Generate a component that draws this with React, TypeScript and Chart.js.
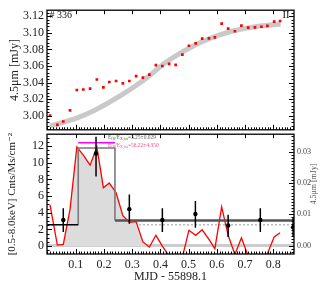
import { useEffect, useRef } from "react";
import { Chart, registerables } from "chart.js";

Chart.register(...registerables);

const SERIF = '"Liberation Serif", "Times New Roman", "DejaVu Serif", serif';

// ---------------- data ----------------
// upper panel: 4.5 micron light curve (red squares)
const irTimes = [0.009, 0.035, 0.056, 0.080, 0.104, 0.127, 0.151, 0.175, 0.198, 0.219, 0.243, 0.267, 0.290, 0.314, 0.338, 0.361, 0.384, 0.407, 0.431, 0.454, 0.478, 0.501, 0.525, 0.548, 0.572, 0.593, 0.617, 0.640, 0.664, 0.687, 0.711, 0.735, 0.758, 0.779, 0.803, 0.824];
const irFlux = [3.000, 2.989, 2.993, 3.0065, 3.031, 3.0316, 3.0326, 3.0437, 3.0341, 3.0407, 3.0419, 3.0391, 3.0419, 3.0477, 3.0460, 3.0495, 3.0611, 3.0600, 3.0626, 3.0614, 3.0736, 3.0844, 3.0872, 3.0930, 3.0934, 3.0945, 3.1112, 3.1050, 3.1019, 3.1088, 3.1062, 3.1065, 3.1073, 3.1085, 3.1135, 3.1143];
// smooth model (thick gray curve)
const modelTimes = [0.009, 0.06, 0.11, 0.16, 0.21, 0.26, 0.31, 0.36, 0.41, 0.46, 0.51, 0.56, 0.61, 0.66, 0.71, 0.76, 0.826];
const modelFlux = [2.9875, 2.9925, 2.998, 3.0055, 3.0145, 3.0245, 3.0355, 3.048, 3.062, 3.0735, 3.083, 3.091, 3.0975, 3.1025, 3.106, 3.1085, 3.1105];

// lower panel: red curve (same epochs as irTimes)
const irRate = [4.94, 0.12, 0.2, 4.43, 11.9, 10.9, 9.7, 11.9, 7.0, 7.56, 6.4, 3.65, 2.86, 2.94, 0.5, -0.1, 1.3, 0.0, -1.2, -2.0, -1.3, 1.9, 1.3, 1.96, 0.8, -0.3, 4.7, 1.3, -1.0, 1.0, -1.2, -1.5, -1.5, -0.9, 1.1, 1.6];
const fillFirst = 2;
const fillLast = 15;

// X-ray binned light curve
const xrayTimes = [0.056, 0.172, 0.290, 0.407, 0.524, 0.640, 0.754, 0.870];
const xrayRate = [3.14, 11.1, 4.43, 3.14, 3.85, 2.47, 3.14, 2.25];
const xrayErrLo = [1.7, 8.35, 2.67, 1.7, 2.2, 1.1, 1.7, 1.1];
const xrayErrHi = [4.55, 13.1, 6.2, 4.55, 5.4, 3.76, 4.55, 3.4];

// Bayesian blocks
const blockEdges = [0.0, 0.109, 0.239, 0.873];
const blockRates = [2.55, 11.76, 3.06];
const meanRate = 2.55;
const flareWindow = [0.109, 0.239];
const flareLevel = 12.39;

// ticks
const xTicks = [0.1, 0.2, 0.3, 0.4, 0.5, 0.6, 0.7, 0.8];
const fluxTicks = [3.0, 3.02, 3.04, 3.06, 3.08, 3.1, 3.12];
const rateTicks = [0, 2, 4, 6, 8, 10, 12];
const mjyTicks = [0.0, 0.01, 0.02, 0.03];

// axis ranges
const X_MIN = -0.0017;
const X_MAX = 0.8733;
const FLUX_MIN = 2.983;
const FLUX_MAX = 3.1273;
const RATE_MIN = -0.94;
const RATE_MAX = 13.41;
const MJY_MIN = -0.0027;
const MJY_MAX = 0.0357;

// ---------------- helpers ----------------
const steps = (a: number, b: number, s: number) => {
  const out: number[] = [];
  for (let i = Math.ceil(a / s - 1e-9); i * s <= b + 1e-9; i++) out.push(+(i * s).toFixed(6));
  return out;
};

type TickSpec = { scale: string; side: "top" | "bottom" | "left" | "right"; values: number[]; len: number };

const framePlugin = {
  id: "frameTicks",
  afterDatasetsDraw(chart: any, _args: any, opts: any) {
    const { ctx, chartArea: a } = chart;
    ctx.save();
    ctx.strokeStyle = "#000";
    ctx.lineWidth = 1;
    ctx.beginPath();
    for (const t of (opts.ticks || []) as TickSpec[]) {
      const sc = chart.scales[t.scale];
      for (const v of t.values) {
        const p = Math.round(sc.getPixelForValue(v)) + 0.5;
        if (t.side === "bottom" || t.side === "top") {
          if (p < a.left || p > a.right) continue;
          const y0 = t.side === "bottom" ? a.bottom : a.top;
          const dir = t.side === "bottom" ? -1 : 1;
          ctx.moveTo(p, y0);
          ctx.lineTo(p, y0 + dir * t.len);
        } else {
          if (p < a.top || p > a.bottom) continue;
          const x0 = t.side === "left" ? a.left : a.right;
          const dir = t.side === "left" ? 1 : -1;
          ctx.moveTo(x0, p);
          ctx.lineTo(x0 + dir * t.len, p);
        }
      }
    }
    ctx.stroke();
    ctx.lineWidth = 1.3;
    ctx.strokeRect(a.left, a.top, a.right - a.left, a.bottom - a.top);
    ctx.restore();
  },
};

const textPlugin = {
  id: "texts",
  afterDraw(chart: any, _args: any, opts: any) {
    const { ctx } = chart;
    for (const it of opts.items || []) {
      const x = it.xv != null ? chart.scales.x.getPixelForValue(it.xv) : it.x;
      const y = it.yv != null ? chart.scales.y.getPixelForValue(it.yv) : it.y;
      ctx.save();
      ctx.translate(x, y);
      if (it.rotate) ctx.rotate(it.rotate);
      ctx.fillStyle = it.color || "#222";
      ctx.textAlign = "left";
      ctx.textBaseline = "middle";
      let w = 0;
      for (const p of it.parts) {
        ctx.font = `${p.sub ? it.size * 0.7 : it.size}px ${SERIF}`;
        w += ctx.measureText(p.t).width;
      }
      let cx = it.align === "right" ? -w : it.align === "center" ? -w / 2 : 0;
      for (const p of it.parts) {
        ctx.font = `${p.sub ? it.size * 0.7 : it.size}px ${SERIF}`;
        ctx.fillText(p.t, cx, p.sub ? it.size * 0.3 : 0);
        cx += ctx.measureText(p.t).width;
      }
      ctx.restore();
    }
  },
};

const pts = (xs: number[], ys: number[]) => xs.map((x, i) => ({ x, y: ys[i] }));

export default function App() {
  const topRef = useRef<HTMLCanvasElement>(null);
  const botRef = useRef<HTMLCanvasElement>(null);

  useEffect(() => {
    const top = new Chart(topRef.current as HTMLCanvasElement, {
      type: "line",
      data: {
        datasets: [
          {
            label: "4.5um",
            data: pts(irTimes, irFlux),
            showLine: false,
            pointStyle: "rect",
            pointRadius: 1.9,
            pointBackgroundColor: "#ff0000",
            pointBorderWidth: 0,
            order: 0,
          },
          {
            label: "model",
            data: pts(modelTimes, modelFlux),
            borderColor: "#c9c9c9",
            borderWidth: 5,
            pointRadius: 0,
            cubicInterpolationMode: "monotone",
            order: 1,
          },
        ],
      } as any,
      options: {
        responsive: false,
        animation: false,
        events: [],
        layout: { padding: { left: 0, right: 33, top: 8, bottom: 8 } },
        scales: {
          x: { type: "linear", display: false, min: X_MIN, max: X_MAX },
          y: {
            type: "linear",
            position: "left",
            min: FLUX_MIN,
            max: FLUX_MAX,
            grid: { display: false, drawTicks: false },
            border: { display: false },
            afterBuildTicks: (s: any) => {
              s.ticks = fluxTicks.map((v) => ({ value: v }));
            },
            afterFit: (s: any) => {
              s.width = 47;
            },
            ticks: {
              padding: 3,
              font: { family: SERIF, size: 12 },
              color: "#222",
              callback: (v: any) => Number(v).toFixed(2),
            },
            title: {
              display: true,
              text: "4.5μm [mJy]",
              font: { family: SERIF, size: 12 },
              color: "#222",
              padding: { top: 8, bottom: 0 },
            },
          },
        },
        plugins: {
          legend: { display: false },
          tooltip: { enabled: false },
          frameTicks: {
            ticks: [
              { scale: "x", side: "bottom", values: xTicks, len: 5 },
              { scale: "x", side: "bottom", values: steps(0, 0.87, 0.01), len: 2.5 },
              { scale: "x", side: "top", values: xTicks, len: 4 },
              { scale: "y", side: "left", values: fluxTicks, len: 5 },
              { scale: "y", side: "left", values: steps(2.984, 3.127, 0.004), len: 2.5 },
              { scale: "y", side: "right", values: fluxTicks, len: 5 },
              { scale: "y", side: "right", values: steps(2.984, 3.127, 0.004), len: 2.5 },
            ],
          },
          texts: {
            items: [
              { parts: [{ t: "# 336" }], x: 49.5, y: 15, size: 10, color: "#111" },
              { parts: [{ t: "II" }], x: 289.5, y: 15, size: 10.5, color: "#111", align: "right" },
            ],
          },
        } as any,
      },
      plugins: [framePlugin, textPlugin],
    } as any);

    const blockSeg1 = [
      { x: blockEdges[0], y: blockRates[0] },
      { x: blockEdges[1], y: blockRates[0] },
    ];
    const blockSeg2 = [
      { x: blockEdges[1], y: blockRates[0] },
      { x: blockEdges[1], y: blockRates[1] },
      { x: blockEdges[2], y: blockRates[1] },
      { x: blockEdges[2], y: blockRates[2] },
    ];
    const blockSeg3 = [
      { x: blockEdges[2], y: blockRates[2] },
      { x: blockEdges[3], y: blockRates[2] },
    ];
    const errData = xrayTimes.flatMap((t, i) => [
      { x: t, y: xrayErrLo[i] },
      { x: t, y: xrayErrHi[i] },
      { x: t, y: null },
    ]);
    const fillData = pts(irTimes, irRate).slice(fillFirst, fillLast + 1);

    const bot = new Chart(botRef.current as HTMLCanvasElement, {
      type: "line",
      data: {
        datasets: [
          {
            label: "xray",
            data: pts(xrayTimes, xrayRate),
            showLine: false,
            pointRadius: 2.2,
            pointBackgroundColor: "#000",
            pointBorderWidth: 0,
            order: 0,
          },
          {
            label: "err",
            data: errData,
            borderColor: "#000",
            borderWidth: 1.5,
            pointRadius: 0,
            spanGaps: false,
            order: 1,
          },
          {
            label: "flare",
            data: [
              { x: flareWindow[0], y: flareLevel },
              { x: flareWindow[1], y: flareLevel },
            ],
            borderColor: "#ff00ff",
            borderWidth: 1.5,
            pointRadius: 0,
            order: 2,
          },
          { label: "b1", data: blockSeg1, borderColor: "#000", borderWidth: 1.5, pointRadius: 0, order: 3 },
          { label: "b2", data: blockSeg2, borderColor: "#7a7a7a", borderWidth: 1.6, pointRadius: 0, order: 3 },
          { label: "b3", data: blockSeg3, borderColor: "#555", borderWidth: 2.5, pointRadius: 0, order: 3 },
          {
            label: "ir",
            data: pts(irTimes, irRate),
            borderColor: "#ff0000",
            borderWidth: 1.3,
            pointRadius: 0,
            order: 4,
          },
          {
            label: "fill",
            data: fillData,
            borderColor: "rgba(0,0,0,0)",
            borderWidth: 0,
            backgroundColor: "#dcdcdc",
            fill: "origin",
            pointRadius: 0,
            order: 5,
          },
          {
            label: "zero",
            data: [
              { x: X_MIN, y: 0 },
              { x: X_MAX, y: 0 },
            ],
            yAxisID: "y2",
            borderColor: "#cccccc",
            borderWidth: 3,
            pointRadius: 0,
            order: 6,
          },
          {
            label: "mean",
            data: [
              { x: X_MIN, y: meanRate },
              { x: X_MAX, y: meanRate },
            ],
            borderColor: "#999",
            borderWidth: 1,
            borderDash: [2, 2],
            pointRadius: 0,
            order: 7,
          },
        ],
      } as any,
      options: {
        responsive: false,
        animation: false,
        events: [],
        layout: { padding: { left: 0, right: 0, top: 8, bottom: 0 } },
        scales: {
          x: {
            type: "linear",
            position: "bottom",
            min: X_MIN,
            max: X_MAX,
            grid: { display: false, drawTicks: false },
            border: { display: false },
            afterBuildTicks: (s: any) => {
              s.ticks = xTicks.map((v) => ({ value: v }));
            },
            afterFit: (s: any) => {
              s.height = 36;
            },
            ticks: {
              padding: 4,
              maxRotation: 0,
              autoSkip: false,
              font: { family: SERIF, size: 12 },
              color: "#222",
              callback: (v: any) => Number(v).toFixed(1),
            },
            title: {
              display: true,
              text: "MJD - 55898.1",
              font: { family: SERIF, size: 12 },
              color: "#222",
              padding: { top: 0, bottom: 6 },
            },
          },
          y: {
            type: "linear",
            position: "left",
            min: RATE_MIN,
            max: RATE_MAX,
            grid: { display: false, drawTicks: false },
            border: { display: false },
            afterBuildTicks: (s: any) => {
              s.ticks = rateTicks.map((v) => ({ value: v }));
            },
            afterFit: (s: any) => {
              s.width = 47;
            },
            ticks: {
              padding: 3,
              font: { family: SERIF, size: 12 },
              color: "#222",
              callback: (v: any) => String(v),
            },
            title: {
              display: true,
              text: "[0.5-8.0keV] Cnts/Ms/cm⁻²",
              font: { family: SERIF, size: 11 },
              color: "#222",
              padding: { top: 5.5, bottom: 0 },
            },
          },
          y2: {
            type: "linear",
            position: "right",
            min: MJY_MIN,
            max: MJY_MAX,
            grid: { display: false, drawTicks: false },
            border: { display: false },
            afterBuildTicks: (s: any) => {
              s.ticks = mjyTicks.map((v) => ({ value: v }));
            },
            afterFit: (s: any) => {
              s.width = 33;
            },
            ticks: {
              padding: 3,
              font: { family: SERIF, size: 8 },
              color: "#444",
              callback: (v: any) => Number(v).toFixed(2),
            },
          },
        },
        plugins: {
          legend: { display: false },
          tooltip: { enabled: false },
          frameTicks: {
            ticks: [
              { scale: "x", side: "bottom", values: xTicks, len: 5 },
              { scale: "x", side: "bottom", values: steps(0, 0.87, 0.01), len: 2.5 },
              { scale: "x", side: "top", values: xTicks, len: 4 },
              { scale: "y", side: "left", values: rateTicks, len: 5 },
              { scale: "y", side: "left", values: steps(-0.5, 13.4, 0.5), len: 2.5 },
              { scale: "y2", side: "right", values: mjyTicks, len: 5 },
              { scale: "y2", side: "right", values: steps(-0.002, 0.0355, 0.001), len: 2.5 },
            ],
          },
          texts: {
            items: [
              { parts: [{ t: "4.5μm [mJy]" }], x: 314, y: 60, size: 8, color: "#555", align: "center", rotate: -Math.PI / 2 },
              {
                parts: [{ t: "E" }, { t: "IR", sub: true }, { t: "/E" }, { t: "X,tot", sub: true }, { t: "=3.25±0.029" }],
                xv: 0.2144,
                yv: 13.0,
                size: 5.5,
                color: "#666",
              },
              {
                parts: [{ t: "E" }, { t: "IR", sub: true }, { t: "/E" }, { t: "X,tot", sub: true }, { t: "=56.22±4.350" }],
                xv: 0.2144,
                yv: 12.06,
                size: 5.5,
                color: "#ff4f8b",
              },
            ],
          },
        } as any,
      },
      plugins: [framePlugin, textPlugin],
    } as any);

    return () => {
      top.destroy();
      bot.destroy();
    };
  }, []);

  return (
    <div style={{ position: "absolute", left: 0, top: 0, width: 327, height: 290, background: "#fff" }}>
      <canvas ref={topRef} width={327} height={140} style={{ position: "absolute", left: 0, top: 0 }} />
      <canvas ref={botRef} width={327} height={166} style={{ position: "absolute", left: 0, top: 124 }} />
    </div>
  );
}
